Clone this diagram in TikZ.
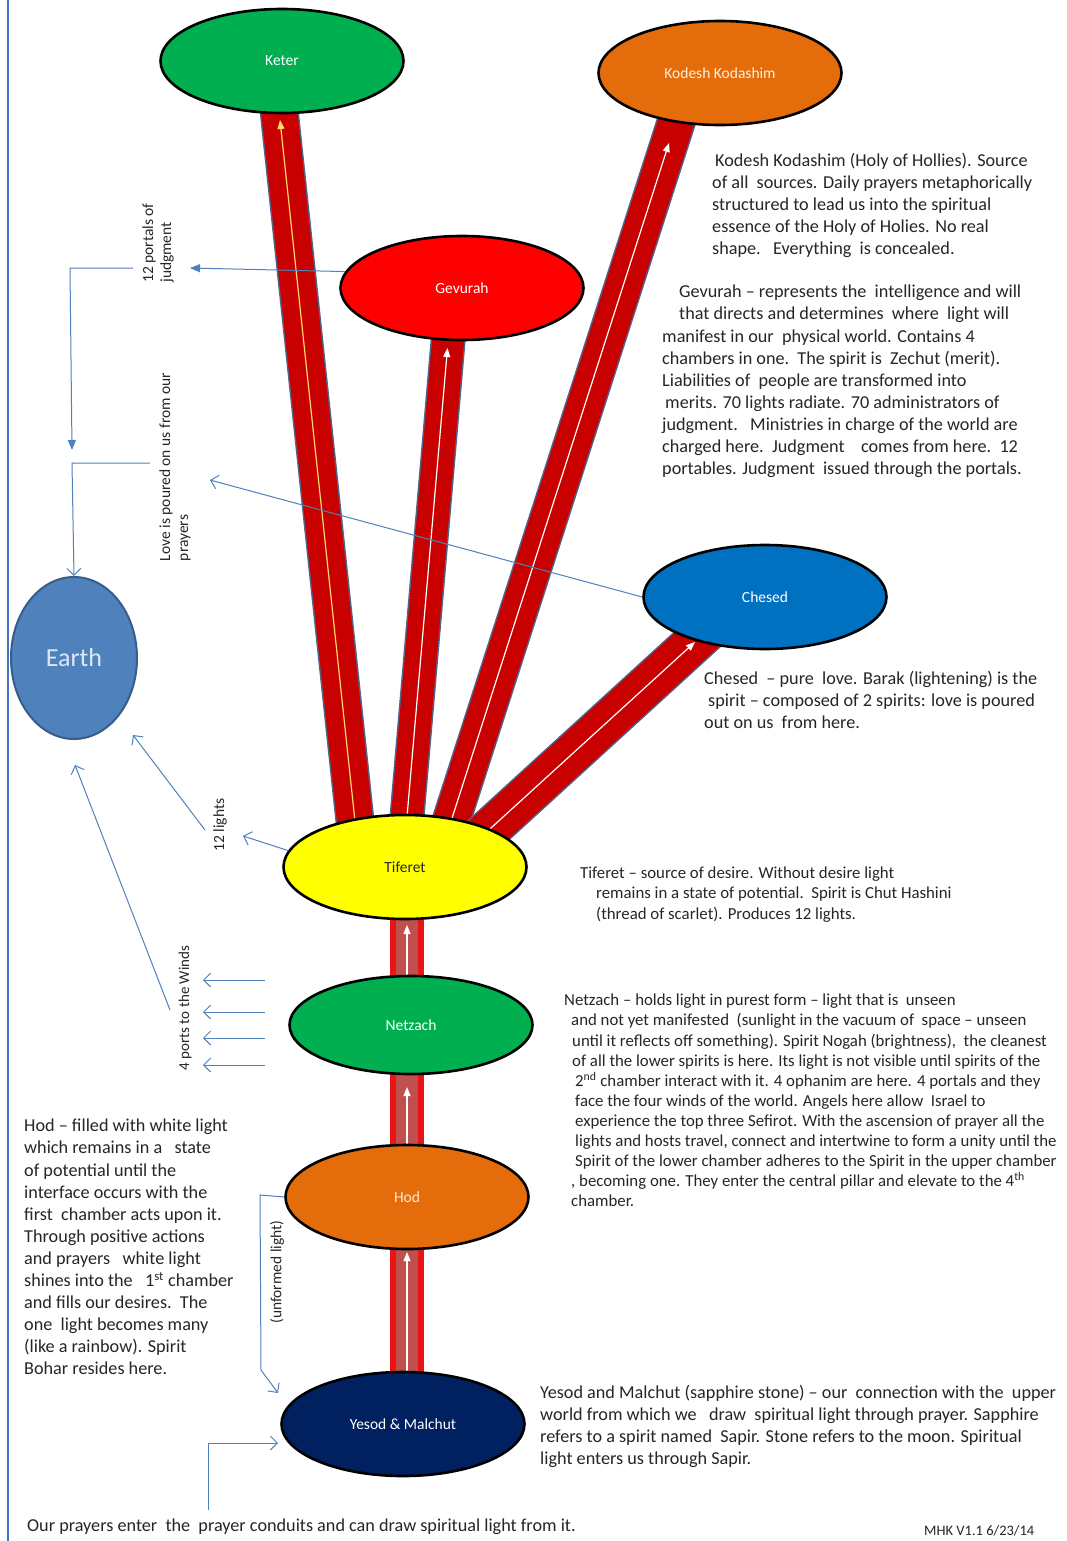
\documentclass[tikz,border=0pt]{standalone}
\usepackage{fontspec}
\setmainfont{Carlito}
\usetikzlibrary{shapes.geometric,arrows.meta,calc}
\definecolor{cgreen}{RGB}{0,176,80}
\definecolor{corange}{RGB}{228,108,10}
\definecolor{cred}{RGB}{255,0,0}
\definecolor{cblue}{RGB}{0,112,192}
\definecolor{cyellow}{RGB}{255,255,0}
\definecolor{cnavy}{RGB}{0,32,96}
\definecolor{earthf}{RGB}{79,129,189}
\definecolor{earthb}{RGB}{56,93,138}
\definecolor{arr}{RGB}{79,129,189}
\definecolor{barred}{RGB}{200,0,0}
\definecolor{barline}{RGB}{80,100,140}
\definecolor{vred}{RGB}{235,20,20}
\definecolor{vinner}{RGB}{192,80,77}
\definecolor{txt}{RGB}{38,38,38}
\definecolor{rule}{RGB}{68,114,196}
\begin{document}
\begin{tikzpicture}[x=1pt,y=-1pt,
  sef/.style={ellipse, draw=black, line width=2.6pt, minimum width=243pt, minimum height=104pt, inner sep=0pt, font=\fontsize{15.5}{17}\selectfont, text=white},
  diagbar/.style={draw=barline, line width=1.5pt, double=barred, double distance=#1},
  vbar/.style={draw=vred, line width=6pt, double=vinner, double distance=22pt},
  beam/.style={draw=white, line width=1.2pt, -{Triangle[length=9pt,width=7pt]}},
  farrow/.style={draw=arr, line width=1pt, -{Triangle[length=10pt,width=8pt]}},
  oarrow/.style={draw=arr, line width=1pt, -{Straight Barb[length=7pt,width=14pt]}},
  body/.style={anchor=north west, inner sep=0pt, align=left, text=txt, font=\fontsize{18.2}{22.1}\selectfont},
  small/.style={anchor=north west, inner sep=0pt, align=left, text=txt, font=\fontsize{16.8}{20.1}\selectfont},
  vlab/.style={rotate=90, inner sep=0pt, align=left, text=txt, font=\fontsize{15.5}{18}\selectfont}
]
\useasboundingbox (0,0) rectangle (1066,1541);
\fill[white] (0,0) rectangle (1066,1541);
\draw[rule, line width=1.5pt] (8,0) -- (8,1541);

% bar axes
\coordinate (kb) at (357,840); \coordinate (kt) at (278,100); \coordinate (ka) at (280,120);
\coordinate (gb) at (405,840); \coordinate (gt) at (449,330); \coordinate (ga) at (447.5,348);
\coordinate (qb) at (445,840); \coordinate (qt) at (680,110); \coordinate (qa) at (669,143);
\coordinate (cb) at (480,838); \coordinate (ct) at (712,626); \coordinate (ca) at (695,642);

\draw[diagbar=36pt] (kb) -- (kt);
\draw[diagbar=32pt] (gb) -- (gt);
\draw[diagbar=36pt] (qb) -- (qt);
\draw[diagbar=40pt] (cb) -- (ct);
\draw[beam, draw={rgb,255:red,255;green,217;blue,102}] (kb) -- (ka);
\draw[beam] (gb) -- (ga);
\draw[beam] (qb) -- (qa);
\draw[beam] (cb) -- (ca);

% vertical bars
\coordinate (v1b) at (407,985); \coordinate (v1t) at (407,910); \coordinate (v1a) at (407,925);
\coordinate (v2b) at (407,1150); \coordinate (v2t) at (407,1070); \coordinate (v2a) at (407,1087);
\coordinate (v3b) at (407,1378); \coordinate (v3t) at (407,1245); \coordinate (v3a) at (407,1252);
\draw[vbar] (v1b) -- (v1t);
\draw[vbar] (v2b) -- (v2t);
\draw[vbar] (v3b) -- (v3t);
\draw[beam] (v1b) -- (v1a);
\draw[beam] (v2b) -- (v2a);
\draw[beam] (v3b) -- (v3a);

% sefirot
\node[sef, fill=cgreen] (keter) at (282,61) {Keter};
\node[sef, fill=corange, text={rgb,255:red,255;green,240;blue,220}] (kodesh) at (720,73) {Kodesh Kodashim};
\node[sef, fill=cred] (gevurah) at (462,288) {Gevurah};
\node[sef, fill=cblue] (chesed) at (765,597) {Chesed};
\node[sef, fill=cyellow, text=txt] (tiferet) at (405,867) {Tiferet};
\node[sef, fill=cgreen, minimum height=98pt] (netzach) at (411,1025) {Netzach};
\node[sef, fill=corange, text={rgb,255:red,253;green,233;blue,217}] (hod) at (407,1197) {Hod};
\node[sef, fill=cnavy] (yesod) at (403,1424) {Yesod \& Malchut};
\node[ellipse, fill=earthf, draw=earthb, line width=2pt, minimum width=126pt, minimum height=162pt, inner sep=0pt,
      text={rgb,255:red,220;green,232;blue,245}, font=\fontsize{26}{28}\selectfont] (earth) at (74,658) {Earth};

% rotated labels
\node[vlab] (portals) at (158,243) {12 portals of\\judgment};
\node[vlab] (love) at (175,467) {Love is poured on us from our\\prayers};
\node[vlab] (lights) at (220,825) {12 lights};
\node[vlab, font=\fontsize{15}{17}\selectfont] (winds) at (185,1008) {4 ports to the Winds};
\node[vlab] (unformed) at (277,1272) {(unformed light)};

% connectors
\coordinate (p1) at (190,268);
\draw[farrow] (gevurah.172) -- (p1);
\coordinate (p2) at (133,268); \coordinate (p3) at (72,450);
\draw[farrow] (p2) -- (70,268) -- (p3);
\coordinate (p4) at (150,463);
\draw[oarrow] (p4) -- (72,463) -- (earth.north);
\coordinate (p5) at (210,480);
\draw[oarrow] (chesed.west) -- (p5);
\coordinate (p6) at (205,830); \coordinate (p7) at (133,735);
\draw[oarrow] (p6) -- (p7);
\coordinate (p8) at (243,836);
\draw[oarrow] (tiferet.172) -- (p8);
\coordinate (p9) at (170,1010); \coordinate (p10) at (75,765);
\draw[oarrow] (p9) -- (p10);
\foreach \yy/\nm in {980/w1,1012/w2,1038/w3,1065/w4}{
  \coordinate (\nm s) at (265,\yy); \coordinate (\nm e) at (203,\yy);
  \draw[oarrow] (\nm s) -- (\nm e);
}
\coordinate (p11) at (278,1393);
\draw[oarrow] (hod.west) -- (260,1195) -- (261,1370) -- (p11);
\coordinate (p12) at (208,1510); \coordinate (p13) at (278,1443);
\draw[oarrow] (p12) -- (208,1443) -- (p13);

% text blocks
\node[body] (tkodesh) at (712,153) {\hspace*{3pt}Kodesh Kodashim (Holy of Hollies). Source\\
of all\ \ sources. Daily prayers metaphorically\\
structured to lead us into the spiritual\\
essence of the Holy of Holies. No real\\
shape.\ \ \ Everything\ \ is concealed.};

\node[body] (tgevurah) at (662,285) {\hspace*{17pt}Gevurah – represents the\ \ intelligence and will\\
\hspace*{17pt}that directs and determines\ \ where\ \ light will\\
manifest in our\ \ physical world. Contains 4\\
chambers in one.\ \ The spirit is\ \ Zechut (merit).\\
Liabilities of\ \ people are transformed into\\
\hspace*{3pt}merits. 70 lights radiate. 70 administrators of\\
judgment.\ \ \ Ministries in charge of the world are\\
charged here.\ \ Judgment\ \ \ \ comes from here.\ \ 12\\
portables. Judgment\ \ issued through the portals.};

\node[body] (tchesed) at (704,671) {Chesed\ \ – pure\ \ love. Barak (lightening) is the\\
\hspace*{4pt}spirit – composed of 2 spirits: love is poured\\
out on us\ \ from here.};

\node[small] (ttiferet) at (580,867) {Tiferet – source of desire. Without desire light\\
\hspace*{16pt}remains in a state of potential.\ \ Spirit is Chut Hashini\\
\hspace*{16pt}(thread of scarlet). Produces 12 lights.};

\node[small] (tnetzach) at (564,994) {Netzach – holds light in purest form – light that is\ \ unseen\\
\hspace*{7pt}and not yet manifested\ \ (sunlight in the vacuum of\ \ space – unseen\\
\hspace*{8pt}until it reflects off something). Spirit Nogah (brightness),\ \ the cleanest\\
\hspace*{8pt}of all the lower spirits is here. Its light is not visible until spirits of the\\
\hspace*{11pt}2\textsuperscript{nd} chamber interact with it. 4 ophanim are here. 4 portals and they\\
\hspace*{11pt}face the four winds of the world. Angels here allow\ \ Israel to\\
\hspace*{11pt}experience the top three Sefirot. With the ascension of prayer all the\\
\hspace*{11pt}lights and hosts travel, connect and intertwine to form a unity until the\\
\hspace*{11pt}Spirit of the lower chamber adheres to the Spirit in the upper chamber\\
\hspace*{7pt}, becoming one. They enter the central pillar and elevate to the 4\textsuperscript{th}\\
\hspace*{7pt}chamber.};

\node[body] (thod) at (24,1119) {Hod – filled with white light\\
which remains in a\ \ \ state\\
of potential until the\\
interface occurs with the\\
first\ \ chamber acts upon it.\\
Through positive actions\\
and prayers\ \ \ white light\\
shines into the\ \ \ 1\textsuperscript{st} chamber\\
and fills our desires.\ \ The\\
one\ \ light becomes many\\
(like a rainbow). Spirit\\
Bohar resides here.};

\node[body] (tyesod) at (540,1385) {Yesod and Malchut (sapphire stone) – our\ \ connection with the\ \ upper\\
world from which we\ \ \ draw\ \ spiritual light through prayer. Sapphire\\
refers to a spirit named\ \ Sapir. Stone refers to the moon. Spiritual\\
light enters us through Sapir.};

\node[body] (tbottom) at (27,1519) {Our prayers enter\ \ the\ \ prayer conduits and can draw spiritual light from it.};
\node[body, font=\fontsize{14.5}{16}\selectfont] (tmhk) at (924,1525) {MHK V1.1 6/23/14};
\end{tikzpicture}
\end{document}
